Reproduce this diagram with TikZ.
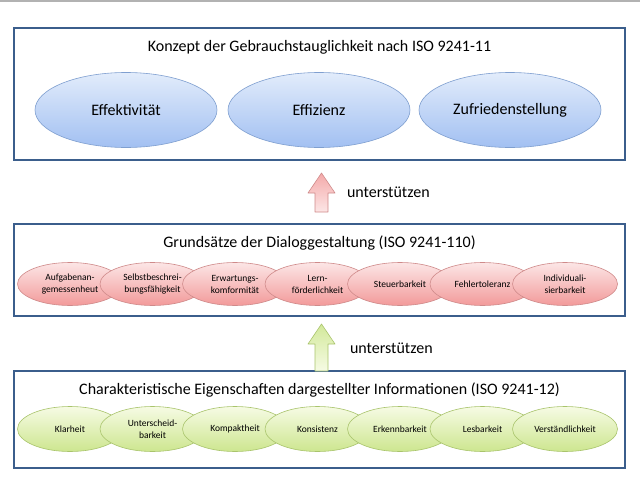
\documentclass[tikz,border=0pt]{standalone}
\usepackage{fontspec}
\setmainfont{Carlito}
\usetikzlibrary{positioning,shapes.geometric}
\definecolor{rahmen}{HTML}{3B5E8C}
\definecolor{blauhell}{HTML}{E2ECFB}
\definecolor{blaudunkel}{HTML}{A2C0F2}
\definecolor{blaurand}{HTML}{7F9FD0}
\definecolor{rothell}{HTML}{FCE6E6}
\definecolor{rotdunkel}{HTML}{F29A9A}
\definecolor{rotrand}{HTML}{CF8A8A}
\definecolor{gruenhell}{HTML}{F6FBE4}
\definecolor{gruendunkel}{HTML}{CDE68F}
\definecolor{gruenrand}{HTML}{A9C46C}
\begin{document}
\begin{tikzpicture}[x=1pt,y=-1pt]
\tikzset{kasten/.style={draw=rahmen, line width=1.8pt, fill=white, minimum width=611, inner sep=0},
titel/.style={font=\fontsize{16}{18}\selectfont},
grossoval/.style={ellipse, draw=blaurand, line width=0.6pt, top color=blauhell, bottom color=blaudunkel, minimum width=182, minimum height=75, font=\fontsize{16}{18}\selectfont},
rotoval/.style={ellipse, draw=rotrand, line width=0.6pt, top color=rothell, bottom color=rotdunkel, minimum width=105, minimum height=43, inner sep=0, align=center, font=\fontsize{9.5}{12}\selectfont},
gruenoval/.style={ellipse, draw=gruenrand, line width=0.6pt, top color=gruenhell, bottom color=gruendunkel, minimum width=105, minimum height=45, inner sep=0, align=center, font=\fontsize{9.5}{12}\selectfont},
pfeil/.style={line width=0.6pt, line join=round}}
\useasboundingbox (0,0) rectangle (640,479);
\draw[gray!60, line width=1.5pt] (0,0.75) -- (640,0.75);
% oberer Kasten
\node[kasten, minimum height=132] (K1) at (319.5,94) {};
\node[titel] (T1) at (319.5,47) {Konzept der Gebrauchstauglichkeit nach ISO 9241-11};
\node[grossoval] (E1) at (126,110) {Effektivität};
\node[grossoval] (E2) at (319,110) {Effizienz};
\node[grossoval] (E3) at (510,110) {Zufriedenstellung};
% mittlerer Kasten
\node[kasten, minimum height=92] (K2) at (319.5,270) {};
\node[titel] (T2) at (319.5,243) {Grundsätze der Dialoggestaltung (ISO 9241-110)};
\node[rotoval] (D1) at (70,284) {Aufgabenan-\\gemessenheut};
\node[rotoval] (D2) at (152.5,284) {Selbstbeschrei-\\bungsfähigkeit};
\node[rotoval] (D3) at (235,284) {Erwartungs-\\komformität};
\node[rotoval] (D4) at (317.5,284) {Lern-\\förderlichkeit};
\node[rotoval] (D5) at (400,284) {Steuerbarkeit};
\node[rotoval] (D6) at (482.5,284) {Fehlertoleranz};
\node[rotoval] (D7) at (565,284) {Individuali-\\sierbarkeit};
% unterer Kasten
\node[kasten, minimum height=97] (K3) at (319.5,419.5) {};
\node[titel] (T3) at (319.5,390) {Charakteristische Eigenschaften dargestellter Informationen (ISO 9241-12)};
\node[gruenoval] (C1) at (70,429) {Klarheit};
\node[gruenoval] (C2) at (152.5,429) {Unterscheid-\\barkeit};
\node[gruenoval] (C3) at (235,429) {Kompaktheit};
\node[gruenoval] (C4) at (317.5,429) {Konsistenz};
\node[gruenoval] (C5) at (400,429) {Erkennbarkeit};
\node[gruenoval] (C6) at (482.5,429) {Lesbarkeit};
\node[gruenoval] (C7) at (565,429) {Verständlichkeit};
% Pfeile
\draw[pfeil, draw=rotrand, top color=rotdunkel!85, bottom color=rothell] (308,193) -- (321.5,173) -- (335,193) -- (328,193) -- (328,212) -- (315,212) -- (315,193) -- cycle;
\coordinate (P1) at (335,192.5);
\node[titel, right=8.5pt of P1] (U1) {unterstützen};
\draw[pfeil, draw=gruenrand, top color=gruendunkel!90, bottom color=gruenhell] (308,344) -- (321.5,324) -- (335,344) -- (328,344) -- (328,371) -- (315,371) -- (315,344) -- cycle;
\coordinate (P2) at (335,348);
\node[titel, right=11.5pt of P2] (U2) {unterstützen};
\end{tikzpicture}
\end{document}
